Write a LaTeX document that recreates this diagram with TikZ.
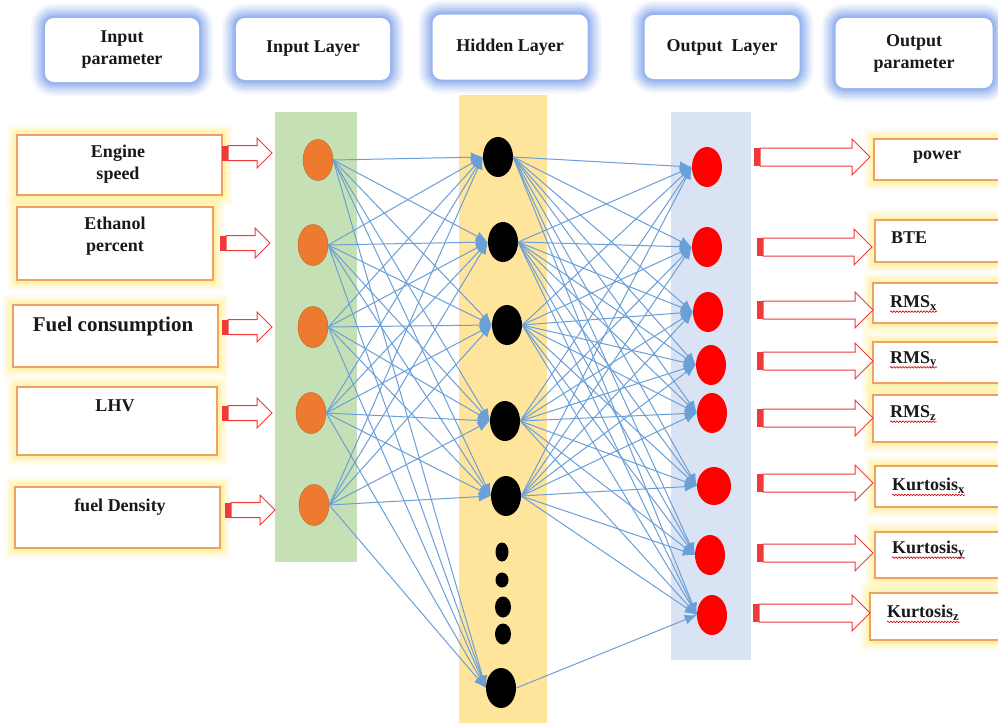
\documentclass[tikz,border=0pt]{standalone}
\usepackage{fontspec}
\setmainfont{Liberation Serif}
\usetikzlibrary{arrows.meta,decorations.pathmorphing,shapes.geometric}
\definecolor{glowblue}{HTML}{8FAEF0}
\definecolor{glowyel}{HTML}{FFEC70}
\definecolor{boxorange}{HTML}{F0A060}
\definecolor{colgreen}{HTML}{C5E0B4}
\definecolor{colyellow}{HTML}{FFE49C}
\definecolor{colblue}{HTML}{DAE3F3}
\definecolor{conncol}{HTML}{6A9FD8}
\definecolor{arrred}{HTML}{F03A3A}
\definecolor{inorange}{HTML}{EE7A30}
\definecolor{outred}{HTML}{FF0000}
\pgfdeclarelayer{bg}
\pgfsetlayers{bg,main}
\tikzset{
  txt/.style={font=\fontsize{18}{22}\selectfont\bfseries, text=black!90, inner sep=0pt, align=center},
  header/.style={rounded corners=9pt, fill=white, inner sep=0pt,
     preaction={draw=glowblue, line width=28pt, opacity=0.12},
     preaction={draw=glowblue, line width=23pt, opacity=0.16},
     preaction={draw=glowblue, line width=18pt, opacity=0.22},
     preaction={draw=glowblue, line width=13pt, opacity=0.3},
     preaction={draw=glowblue, line width=8pt, opacity=0.45},
     preaction={draw=glowblue, line width=4pt, opacity=0.6}},
  inbox/.style={fill=white, draw=boxorange, line width=1.2pt, inner sep=0pt,
     preaction={draw=glowyel, line width=20pt, opacity=0.12},
     preaction={draw=glowyel, line width=15pt, opacity=0.15},
     preaction={draw=glowyel, line width=10pt, opacity=0.22},
     preaction={draw=glowyel, line width=5pt, opacity=0.35}},
  innode/.style={ellipse, fill=inorange, draw=inorange!80!black, line width=0.4pt, minimum width=30pt, minimum height=41pt, inner sep=0pt},
  hidnode/.style={ellipse, fill=black, minimum width=30pt, minimum height=40pt, inner sep=0pt},
  dotnode/.style={ellipse, fill=black, inner sep=0pt},
  outnode/.style={ellipse, fill=outred, minimum width=30pt, minimum height=40pt, inner sep=0pt},
  conn/.style={draw=conncol, line width=1pt, -{Latex[length=12pt,width=10pt]}},
  wavy/.style={draw=red!85!black, line width=0.6pt, decorate, decoration={snake, amplitude=0.8pt, segment length=3pt}},
  pics/barrow/.style n args={4}{code={
    \fill[arrred] (0,-#2) rectangle (6,#2);
    \draw[arrred, line width=1pt, fill=white, line join=miter] (6,-#2) -- (#1-#4,-#2) -- (#1-#4,-#3) -- (#1,0) -- (#1-#4,#3) -- (#1-#4,#2) -- (6,#2) -- cycle;
  }}
}
\begin{document}
\begin{tikzpicture}[x=1pt,y=-1pt]
\useasboundingbox (0,0) rectangle (998,723);
% columns
\begin{pgfonlayer}{bg}
\fill[white] (0,0) rectangle (998,723);
\fill[colgreen] (275,112) rectangle (357,562);
\fill[colyellow] (459,95) rectangle (547,723);
\fill[colblue] (671,112) rectangle (751,660);
\end{pgfonlayer}
% headers
\node[header, minimum width=154pt, minimum height=64pt] (hp1) at (122,50) {};
\node[txt] (hpt1) at (122,50) {Input\\parameter};
\node[header, minimum width=154pt, minimum height=62pt] (hp2) at (313,49) {};
\node[txt] (hpt2) at (313,49) {Input Layer};
\node[header, minimum width=155pt, minimum height=65pt] (hp3) at (510,47) {};
\node[txt] (hpt3) at (510,47) {Hidden Layer};
\node[header, minimum width=155pt, minimum height=64pt] (hp4) at (722,47) {};
\node[txt] (hpt4) at (722,47) {Output\enspace Layer};
\node[header, minimum width=157pt, minimum height=70pt] (hp5) at (914,53) {};
\node[txt] (hpt5) at (914,53) {Output\\parameter};
% input boxes
\node[inbox, minimum width=205pt, minimum height=60pt] (ib1) at (119.5,165) {};
\node[txt] (it1) at (118,164) {Engine\\speed};
\node[inbox, minimum width=196pt, minimum height=73pt] (ib2) at (115,243.5) {};
\node[txt] (it2) at (115,236) {Ethanol\\percent};
\node[inbox, minimum width=205pt, minimum height=62pt] (ib3) at (115.5,336) {};
\node[txt, font=\fontsize{21}{24}\selectfont\bfseries] (it3) at (113,326) {Fuel consumption};
\node[inbox, minimum width=200pt, minimum height=68pt] (ib4) at (117,421) {};
\node[txt] (it4) at (115,406) {LHV};
\node[inbox, minimum width=205pt, minimum height=61pt] (ib5) at (117.5,517.5) {};
\node[txt] (it5) at (120,507) {fuel Density};
% input arrows
\pic at (222,153) {barrow={50}{7.5}{15}{15}};
\pic at (220,243) {barrow={50}{7.5}{15}{15}};
\pic at (222,327) {barrow={50}{7.5}{15}{15}};
\pic at (222,413) {barrow={50}{7.5}{15}{15}};
\pic at (225,510) {barrow={50}{7.5}{15}{15}};
% output boxes
\node[inbox, minimum width=136pt, minimum height=41pt] (ob1) at (942,159.5) {};
\node[inbox, minimum width=135pt, minimum height=42pt] (ob2) at (942.5,241) {};
\node[inbox, minimum width=137pt, minimum height=40pt] (ob3) at (941.5,303) {};
\node[inbox, minimum width=137pt, minimum height=41pt] (ob4) at (941.5,362.5) {};
\node[inbox, minimum width=137pt, minimum height=47pt] (ob5) at (941.5,418.5) {};
\node[inbox, minimum width=135pt, minimum height=41pt] (ob6) at (942.5,486.5) {};
\node[inbox, minimum width=135pt, minimum height=46pt] (ob7) at (942.5,555) {};
\node[inbox, minimum width=140pt, minimum height=47pt] (ob8) at (940,616.5) {};
\node[txt] (ot1) at (937,157) {power};
\node[txt, anchor=west] (ot2) at (891,238) {BTE};
\node[txt, anchor=west] (ot3) at (890,303) {RMS\textsubscript{x}};
\node[txt, anchor=west] (ot4) at (890,360) {RMS\textsubscript{y}};
\node[txt, anchor=west] (ot5) at (890,413) {RMS\textsubscript{z}};
\node[txt, anchor=west] (ot6) at (892,486) {Kurtosis\textsubscript{x}};
\node[txt, anchor=west] (ot7) at (892,550) {Kurtosis\textsubscript{y}};
\node[txt, anchor=west] (ot8) at (887,613) {Kurtosis\textsubscript{z}};
\foreach \k in {3,...,8}{
  \draw[wavy] ([yshift=-4pt]ot\k.base west) -- ([yshift=-4pt]ot\k.base east);
}
% output arrows
\pic at (754,157) {barrow={116}{9}{18}{18}};
\pic at (757,247) {barrow={115}{9}{18}{18}};
\pic at (757,310) {barrow={116}{9}{18}{18}};
\pic at (757,361) {barrow={116}{9}{18}{18}};
\pic at (757,418) {barrow={116}{9}{18}{18}};
\pic at (757,483) {barrow={116}{9}{18}{18}};
\pic at (757,553) {barrow={116}{9}{18}{18}};
\pic at (753,613) {barrow={117}{9}{18}{18}};
% neurons
\node[innode] (i1) at (318,160) {};
\node[innode] (i2) at (313,245) {};
\node[innode] (i3) at (313,327) {};
\node[innode] (i4) at (311,413) {};
\node[innode] (i5) at (314,505) {};
\node[hidnode] (h1) at (498,157) {};
\node[hidnode] (h2) at (503,242) {};
\node[hidnode] (h3) at (507,325) {};
\node[hidnode] (h4) at (505,421) {};
\node[hidnode] (h5) at (506,496) {};
\node[hidnode] (h6) at (501,688) {};
\node[dotnode, minimum width=13pt, minimum height=19pt] (d1) at (502,552) {};
\node[dotnode, minimum width=13pt, minimum height=15pt] (d2) at (502,580) {};
\node[dotnode, minimum width=16pt, minimum height=21pt] (d3) at (503,607) {};
\node[dotnode, minimum width=16pt, minimum height=21pt] (d4) at (503,634) {};
\node[outnode] (o1) at (707,167) {};
\node[outnode] (o2) at (707,247) {};
\node[outnode] (o3) at (708,312) {};
\node[outnode] (o4) at (711,365) {};
\node[outnode] (o5) at (712,413) {};
\node[outnode, minimum width=34pt, minimum height=38pt] (o6) at (714,486) {};
\node[outnode] (o7) at (710,555) {};
\node[outnode] (o8) at (712,615) {};
% connections
\foreach \a in {1,...,5}{
  \foreach \b in {1,...,6}{
    \draw[conn] (i\a.east) -- (h\b.west);
  }
}
\foreach \a in {1,...,5}{
  \foreach \b in {1,...,8}{
    \draw[conn] (h\a.east) -- (o\b.west);
  }
}
\draw[conn] (h6.east) -- (o8.west);
\end{tikzpicture}
\end{document}
